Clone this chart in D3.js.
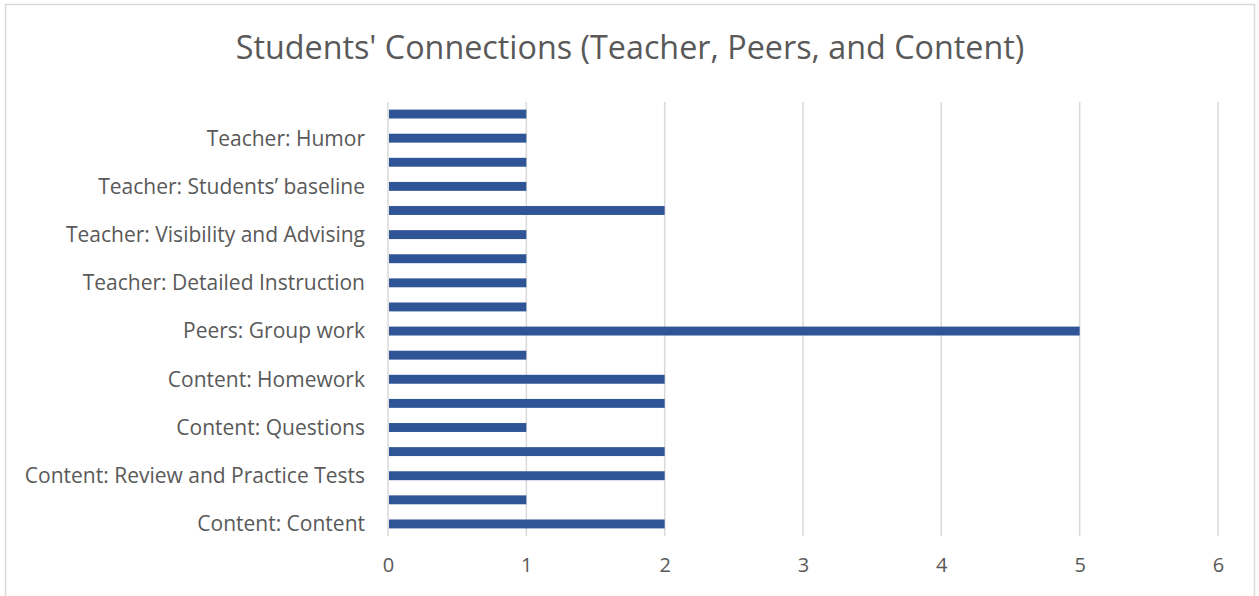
<!DOCTYPE html>
<html lang="en">
<head>
    <meta charset="utf-8">
    <style type="text/css">
        body { margin: 0; background: #fff; }
        text { font-family: "Open Sans", "Noto Sans", sans-serif; fill: #595959; }
        .grid line { stroke: #d9d9d9; stroke-width: 1.5px; }
    </style>
</head>
<body>
<svg width="1259" height="596"></svg>

<script src="https://d3js.org/d3.v7.min.js"></script>
<script type="text/javascript">
    // bars listed top to bottom; null = category whose label Excel skipped
    var categories = [
        null, "Teacher: Humor",
        null, "Teacher: Students\u2019 baseline",
        null, "Teacher: Visibility and Advising",
        null, "Teacher: Detailed Instruction",
        null, "Peers: Group work",
        null, "Content: Homework",
        null, "Content: Questions",
        null, "Content: Review and Practice Tests",
        null, "Content: Content"
    ];
    var values = [1, 1, 1, 1, 2, 1, 1, 1, 1, 5, 1, 2, 2, 1, 2, 2, 1, 2];
    var xTicks = [0, 1, 2, 3, 4, 5, 6];
    var title = "Students' Connections (Teacher, Peers, and Content)";

    var svg = d3.select("svg"),
        width = +svg.attr("width"),
        height = +svg.attr("height");

    var margin = {top: 102, right: 41, bottom: 60, left: 388};

    // chart frame
    svg.append("rect")
        .attr("x", 5.5).attr("y", 4.5)
        .attr("width", 1249).attr("height", 600)
        .attr("fill", "none")
        .attr("stroke", "#d9d9d9")
        .attr("stroke-width", 1.5);

    var x = d3.scaleLinear()
        .domain([0, 6])
        .range([margin.left, width - margin.right]);

    var y = d3.scaleBand()
        .domain(d3.range(values.length))
        .range([margin.top, height - margin.bottom])
        .paddingInner(0.63)
        .paddingOuter(0.315);

    // vertical gridlines
    svg.append("g")
        .attr("class", "grid")
        .selectAll("line")
        .data(xTicks)
        .enter()
        .append("line")
        .attr("x1", function (d) {return x(d);})
        .attr("x2", function (d) {return x(d);})
        .attr("y1", margin.top)
        .attr("y2", height - margin.bottom);

    svg.append("g")
        .selectAll("rect")
        .data(values)
        .enter()
        .append("rect")
        .attr("x", x(0) + 1)
        .attr("y", function (d, i) {return y(i);})
        .attr("width", function (d) {return x(d) - x(0) - 1;})
        .attr("height", y.bandwidth())
        .attr("fill", "#2f5597");

    // x axis labels
    var xAxis = svg.append("g")
        .attr("transform", "translate(0," + (height - margin.bottom) + ")")
        .call(d3.axisBottom(x).tickValues(xTicks).tickFormat(d3.format("d"))
            .tickSize(0).tickPadding(22));
    xAxis.select(".domain").remove();
    xAxis.selectAll("text")
        .attr("font-size", 20)
        .style("font-family", null);

    // category labels
    svg.append("g")
        .selectAll("text")
        .data(categories)
        .enter()
        .filter(function (d) {return d !== null;})
        .append("text")
        .attr("x", 365)
        .attr("y", function (d) {return y(categories.indexOf(d)) + y.bandwidth() / 2;})
        .attr("dy", "0.35em")
        .attr("text-anchor", "end")
        .attr("font-size", 21)
        .text(function (d) {return d;});

    svg.append("text")
        .attr("x", 630)
        .attr("y", 48)
        .attr("dy", "0.35em")
        .attr("text-anchor", "middle")
        .attr("font-size", 32.3)
        .text(title);
</script>
</body>
</html>
